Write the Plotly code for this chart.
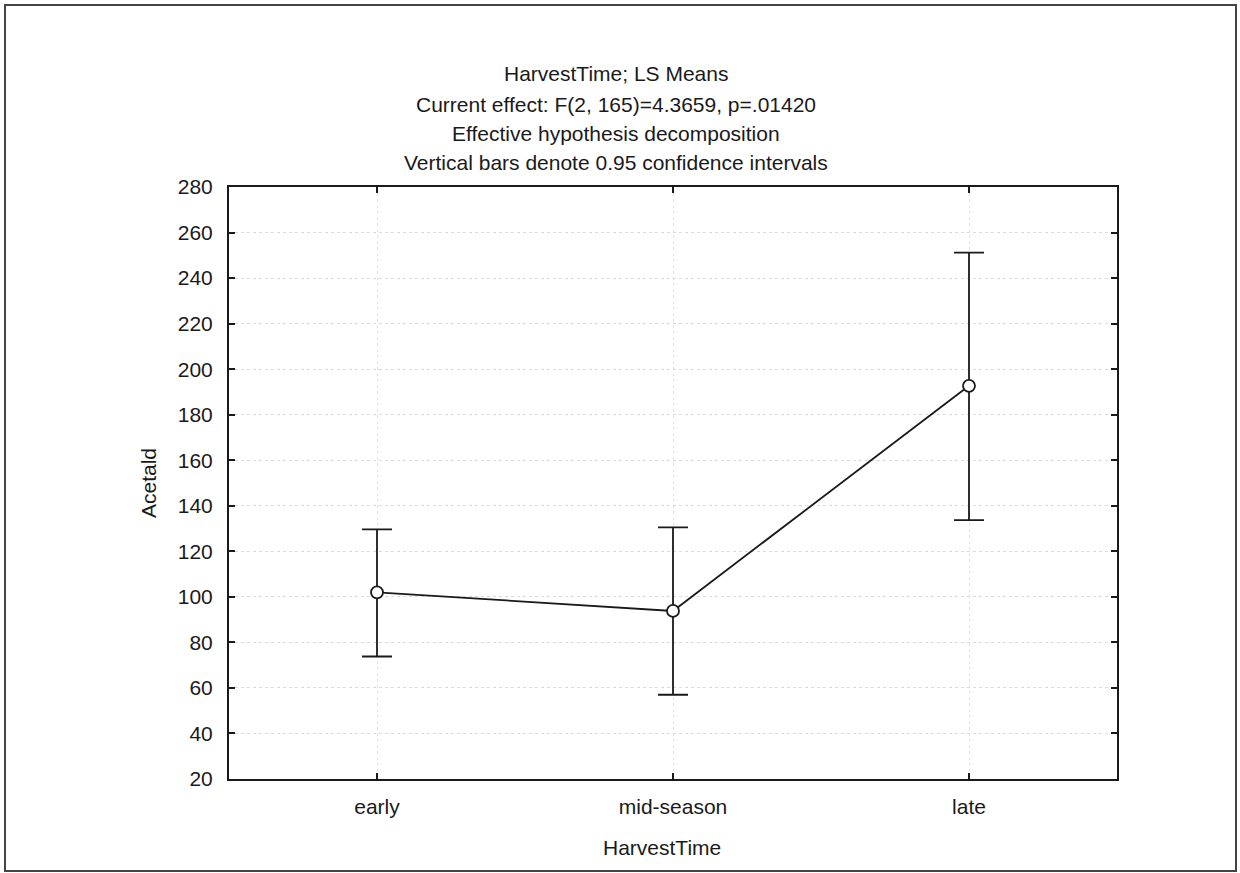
import plotly.graph_objects as go

categories = ["early", "mid-season", "late"]
means = [102.0, 93.8, 192.7]
upper = [129.6, 130.5, 251.2]
lower = [73.8, 57.0, 133.7]
y_ticks = [20, 40, 60, 80, 100, 120, 140, 160, 180, 200, 220, 240, 260, 280]
title_lines = [
    "HarvestTime; LS Means",
    "Current effect: F(2, 165)=4.3659, p=.01420",
    "Effective hypothesis decomposition",
    "Vertical bars denote 0.95 confidence intervals",
]

err_plus = [u - m for u, m in zip(upper, means)]
err_minus = [m - l for m, l in zip(means, lower)]

FONT = "Liberation Sans, Arial, sans-serif"
INK = "#1a1a1a"
FS = 21

fig = go.Figure()
fig.add_trace(go.Scatter(
    x=categories, y=means, mode="lines+markers",
    line=dict(color=INK, width=1.8),
    marker=dict(symbol="circle", size=12, color="white", line=dict(color=INK, width=1.8)),
    error_y=dict(type="data", symmetric=False, array=err_plus, arrayminus=err_minus,
                 color=INK, thickness=1.8, width=15),
    showlegend=False,
))

fig.update_layout(
    width=1240, height=873,
    margin=dict(l=229, r=123, t=187, b=94),
    paper_bgcolor="white", plot_bgcolor="white",
    font=dict(family=FONT, size=FS, color=INK),
)
fig.update_xaxes(
    type="category", range=[-0.5, 2.5],
    showline=True, linecolor=INK, linewidth=2, mirror="ticks",
    ticks="inside", ticklen=6, tickcolor=INK, tickwidth=1.5,
    showgrid=True, gridcolor="#e2e2e2", griddash="dot", gridwidth=1,
    ticklabelstandoff=8, tickfont=dict(size=FS),
    zeroline=False,
)
fig.update_yaxes(
    range=[20, 280], tickvals=y_ticks,
    showline=True, linecolor=INK, linewidth=2, mirror="ticks",
    ticks="inside", ticklen=6, tickcolor=INK, tickwidth=1.5,
    showgrid=True, gridcolor="#dadada", griddash="dot", gridwidth=1,
    ticklabelstandoff=10, tickfont=dict(size=FS),
    zeroline=False,
)

title_py = [73, 104, 133, 163]
for txt, py in zip(title_lines, title_py):
    fig.add_annotation(text=txt, xref="paper", yref="paper", x=(616 - 229) / 888, y=(779 - py) / 592,
                       xanchor="center", yanchor="middle", showarrow=False,
                       font=dict(size=FS, family=FONT, color=INK))

fig.add_annotation(text="HarvestTime", xref="paper", yref="paper", x=(662 - 229) / 888, y=(779 - 848) / 592,
                   xanchor="center", yanchor="middle", showarrow=False,
                   font=dict(size=FS, family=FONT, color=INK))
fig.add_annotation(text="Acetald", xref="paper", yref="paper", x=(148 - 229) / 888, y=0.5,
                   xanchor="center", yanchor="middle", showarrow=False, textangle=-90,
                   font=dict(size=FS, family=FONT, color=INK))

fig.add_shape(type="rect", xref="paper", yref="paper",
              x0=(5 - 229) / 888, x1=(1236 - 229) / 888,
              y0=(779 - 871) / 592, y1=(779 - 5) / 592,
              line=dict(color="#444444", width=2), fillcolor="rgba(0,0,0,0)", layer="below")

fig.write_html("out.html")
